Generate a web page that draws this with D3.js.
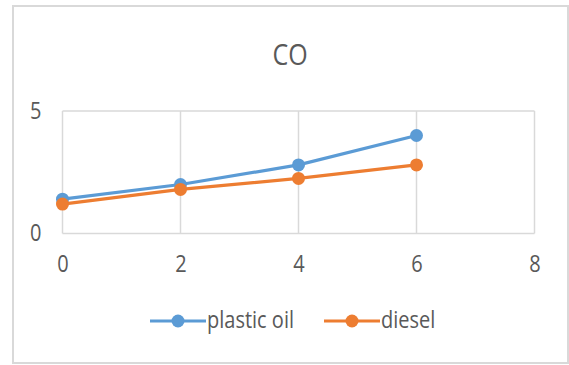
<!DOCTYPE html>
<html>
<head>
<meta charset="utf-8">
<script src="https://cdn.jsdelivr.net/npm/d3@7"></script>
<style>
  html, body { margin: 0; padding: 0; background: #fff; }
  svg { display: block; }
  text { font-family: "Open Sans", "Noto Sans", sans-serif; fill: #595959; }
</style>
</head>
<body>
<svg id="chart" width="569" height="365"></svg>
<script>
// Data
const title = "CO";
const xValues = [0, 2, 4, 6];
const plasticOil = [1.4, 2.0, 2.8, 4.0];
const diesel = [1.2, 1.8, 2.25, 2.8];
const xTicks = [0, 2, 4, 6, 8];
const yTicks = [0, 5];
const seriesNames = ["plastic oil", "diesel"];
const seriesColors = ["#5b9bd5", "#ed7d31"];

const series = [
  { name: seriesNames[0], color: seriesColors[0], values: plasticOil },
  { name: seriesNames[1], color: seriesColors[1], values: diesel }
];

const svg = d3.select("#chart");
const stretch = 1.15; // slightly tall lettering

// Chart frame
svg.append("rect")
  .attr("x", 13).attr("y", 6)
  .attr("width", 555).attr("height", 357)
  .attr("fill", "#fff")
  .attr("stroke", "#d9d9d9")
  .attr("stroke-width", 2);

const plot = { left: 62.5, right: 534.5, top: 111, bottom: 233.5 };

const x = d3.scaleLinear().domain([0, 8]).range([plot.left, plot.right]);
const y = d3.scaleLinear().domain([0, 5]).range([plot.bottom, plot.top]);

// Gridlines
const grid = svg.append("g").attr("stroke", "#d9d9d9").attr("stroke-width", 1.5);
grid.selectAll("line.v").data(xTicks).join("line")
  .attr("class", "v")
  .attr("x1", d => x(d)).attr("x2", d => x(d))
  .attr("y1", y(5)).attr("y2", y(0));
grid.selectAll("line.h").data(yTicks).join("line")
  .attr("class", "h")
  .attr("x1", x(0)).attr("x2", x(8))
  .attr("y1", d => y(d)).attr("y2", d => y(d));

// Axes (labels only)
const xAxis = svg.append("g")
  .attr("transform", `translate(0,${plot.bottom})`)
  .call(d3.axisBottom(x).tickValues(xTicks).tickSize(0).tickFormat(d3.format("d")));
xAxis.select(".domain").remove();
xAxis.selectAll("text")
  .attr("y", 0).attr("dy", null)
  .attr("transform", `translate(0,38) scale(1,${stretch})`)
  .style("font-size", "20px")
  .attr("fill", "#595959");

const yAxis = svg.append("g")
  .attr("transform", `translate(${plot.left},0)`)
  .call(d3.axisLeft(y).tickValues(yTicks).tickSize(0).tickFormat(d3.format("d")));
yAxis.select(".domain").remove();
yAxis.selectAll("text")
  .attr("x", 0).attr("dy", null)
  .attr("transform", `translate(-21,7) scale(1,${stretch})`)
  .style("font-size", "20px")
  .attr("fill", "#595959");

// Title
svg.append("text")
  .attr("transform", `translate(290,65) scale(1,${stretch})`)
  .attr("text-anchor", "middle")
  .style("font-size", "25px")
  .text(title);

// Lines and markers
const line = d3.line()
  .x((d, i) => x(xValues[i]))
  .y(d => y(d));

series.forEach(s => {
  svg.append("path")
    .datum(s.values)
    .attr("d", line)
    .attr("fill", "none")
    .attr("stroke", s.color)
    .attr("stroke-width", 3.2)
    .attr("stroke-linejoin", "round");
  svg.append("g").selectAll("circle").data(s.values).join("circle")
    .attr("cx", (d, i) => x(xValues[i]))
    .attr("cy", d => y(d))
    .attr("r", 6.5)
    .attr("fill", s.color);
});

// Legend
const legendY = 321;
const legendItems = [
  { x0: 150, name: series[0].name, color: series[0].color },
  { x0: 324, name: series[1].name, color: series[1].color }
];
legendItems.forEach(it => {
  const g = svg.append("g");
  g.append("line")
    .attr("x1", it.x0).attr("x2", it.x0 + 56)
    .attr("y1", legendY).attr("y2", legendY)
    .attr("stroke", it.color).attr("stroke-width", 3.2);
  g.append("circle")
    .attr("cx", it.x0 + 28).attr("cy", legendY)
    .attr("r", 6.5).attr("fill", it.color);
  g.append("text")
    .attr("transform", `translate(${it.x0 + 57},${legendY + 7}) scale(1,${stretch})`)
    .style("font-size", "20px")
    .text(it.name);
});
</script>
</body>
</html>
